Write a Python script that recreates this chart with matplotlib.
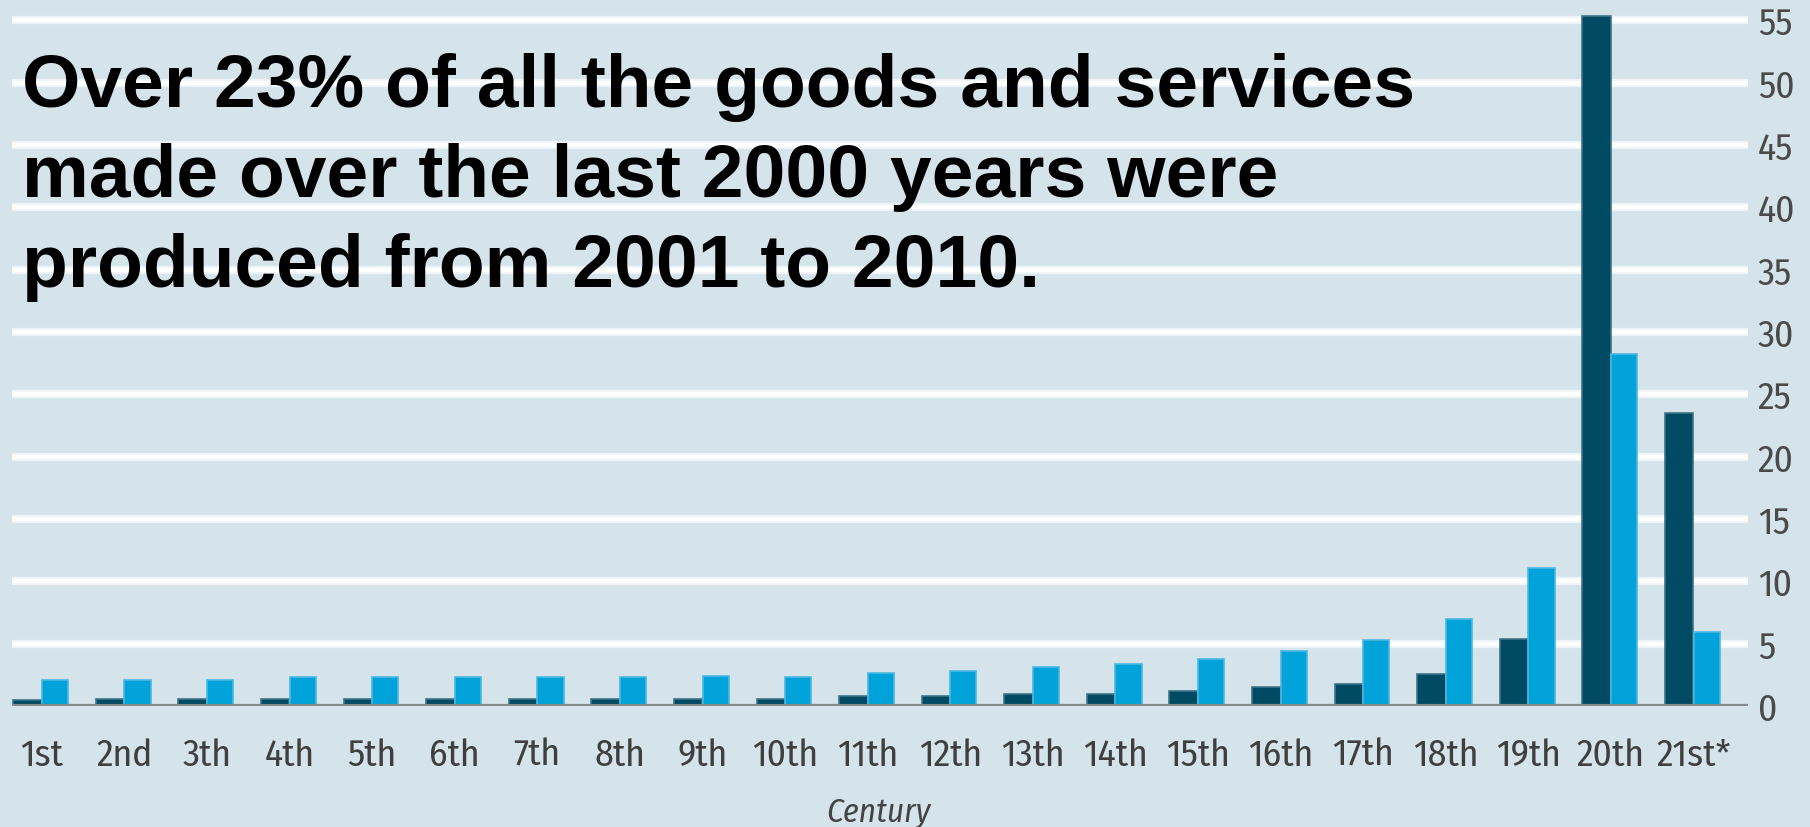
import numpy as np
import matplotlib
matplotlib.use('Agg')
import matplotlib.pyplot as plt

# share of world output and population by century, %
centuries = ['1st', '2nd', '3th', '4th', '5th', '6th', '7th', '8th', '9th', '10th',
             '11th', '12th', '13th', '14th', '15th', '16th', '17th', '18th', '19th',
             '20th', '21st*']
gdp_share = [0.5, 0.6, 0.6, 0.6, 0.6, 0.6, 0.6, 0.6, 0.6, 0.6,
             0.8, 0.8, 0.95, 1.0, 1.2, 1.5, 1.75, 2.6, 5.4, 55.3, 23.5]
pop_share = [2.1, 2.1, 2.1, 2.3, 2.3, 2.3, 2.3, 2.3, 2.4, 2.35,
             2.65, 2.8, 3.1, 3.35, 3.8, 4.4, 5.3, 7.0, 11.1, 28.2, 5.9]
yticks = list(range(0, 60, 5))

title_lines = ['Over 23% of all the goods and services',
               'made over the last 2000 years were',
               'produced from 2001 to 2010.']

bg = '#d5e3ea'
dark = '#004a63'
light = '#00a3d9'
narrow = ['Fira Sans Condensed', 'DejaVu Sans']

fig = plt.figure(figsize=(18.1, 8.28), dpi=100, facecolor=bg)
ax = fig.add_axes([12 / 1810, 121 / 828, 1736 / 1810, 707 / 828])
ax.set_facecolor(bg)

x = np.arange(len(centuries))
w = 0.345
ax.bar(x - w / 2, gdp_share, w, color=dark, edgecolor='#3f7489', linewidth=1.2, zorder=3)
ax.bar(x + w / 2 - 0.013, pop_share, w * 0.92, color=light, edgecolor='#4cb8e2',
       linewidth=1.2, zorder=3)

ax.set_xlim(-0.36, 20.66)
ax.set_ylim(0, 56.7)

# gridlines
for v in yticks[1:]:
    ax.axhline(v, color='#eef4f7', lw=6, zorder=0.9)
    ax.axhline(v, color='white', lw=3.2, zorder=1)
ax.axhline(0, color='#868a8c', lw=3, zorder=4)

for s in ax.spines.values():
    s.set_visible(False)

ax.yaxis.tick_right()
ax.set_yticks(yticks)
ax.set_yticklabels([str(v) for v in yticks], family=narrow, fontsize=27,
                   color='#4a4a4a', ha='left')
ax.tick_params(axis='y', length=0, pad=7)
ax.set_xticks(x)
ax.set_xticklabels(centuries, family=narrow, fontsize=27, color='#3f3f3f')
ax.tick_params(axis='x', length=0, pad=22)

fig.text(878 / 1810, 15 / 828, 'Century', family=narrow, style='italic',
         fontsize=24, color='#444444', ha='center', va='center')

# headline
for i, line in enumerate(title_lines):
    fig.text(22 / 1810, 1 - (107 + 90 * i) / 828, line,
             family=['Liberation Sans', 'DejaVu Sans'],
             weight='bold', fontsize=54, color='black', ha='left', va='baseline', zorder=10)

fig.savefig('out.png', dpi=100, facecolor=bg)
